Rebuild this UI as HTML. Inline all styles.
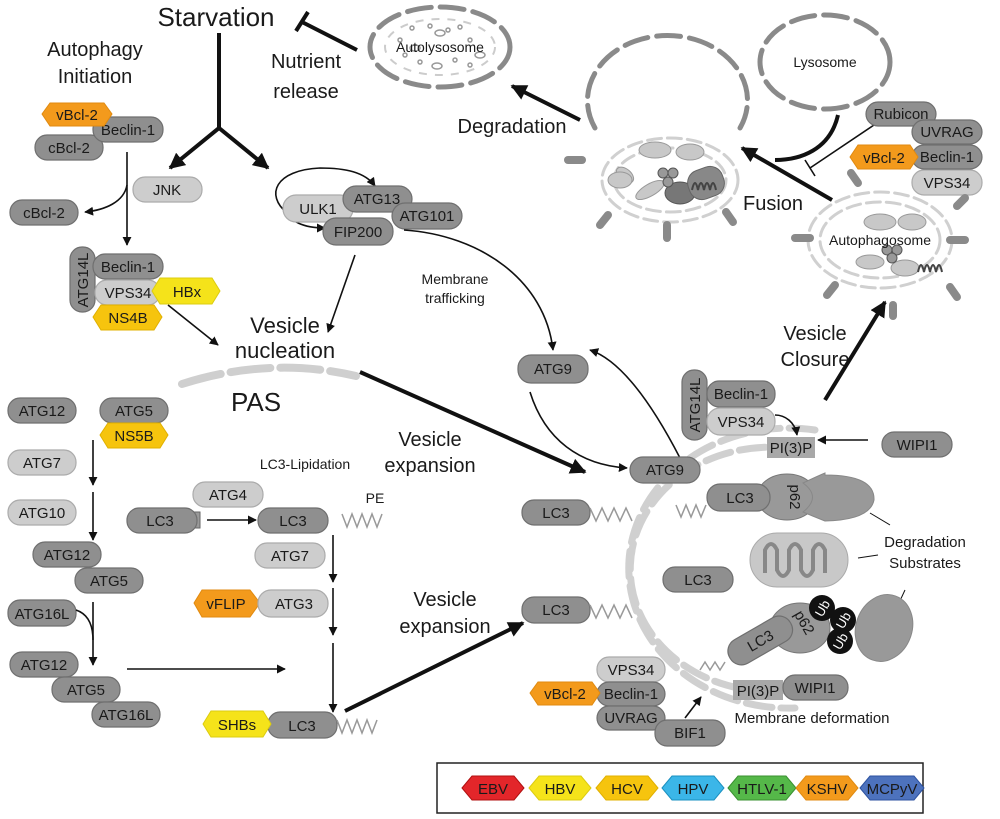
<!DOCTYPE html>
<html><head><meta charset="utf-8"><style>
body{margin:0;background:#fff}
svg{display:block}
text{font-family:"Liberation Sans",sans-serif;fill:#1a1a1a}
.d{fill:#8f8f8f;stroke:#6f6f6f;stroke-width:1.2}
.l{fill:#cdcdcd;stroke:#ababab;stroke-width:1.2}
.t{font-size:15px;text-anchor:middle}
.big{font-size:20px;text-anchor:middle}
.a{fill:none;stroke:#111;stroke-width:1.6}
.A{fill:none;stroke:#111;stroke-width:4}
.mem{fill:none;stroke:#d0d0d0;stroke-width:7;stroke-dasharray:26 9;stroke-linecap:round}
.dv{fill:none;stroke:#8a8a8a;stroke-width:5;stroke-dasharray:24 9;stroke-linecap:round}
.zz{fill:none;stroke:#999;stroke-width:1.5}
.sp{stroke:#8a8a8a;stroke-width:8;stroke-linecap:round}
</style></head><body>
<svg width="1000" height="819" viewBox="0 0 1000 819" xmlns="http://www.w3.org/2000/svg">
<defs>
<marker id="m" viewBox="0 0 10 10" refX="9" refY="5" markerWidth="9" markerHeight="9" markerUnits="userSpaceOnUse" orient="auto"><path d="M0,0 L10,5 L0,10 z" fill="#111"/></marker>
<marker id="M" viewBox="0 0 10 10" refX="9" refY="5" markerWidth="16" markerHeight="16" markerUnits="userSpaceOnUse" orient="auto"><path d="M0,0 L10,5 L0,10 z" fill="#111"/></marker>
</defs>

<text x="216" y="26" style="font-size:26px;text-anchor:middle">Starvation</text>
<text x="95" y="56" class="big">Autophagy</text>
<text x="95" y="83" class="big">Initiation</text>
<path class="A" d="M219,33 V128 L170,168" marker-end="url(#M)"/>
<path class="A" d="M219,128 L268,168" marker-end="url(#M)"/>
<text x="306" y="68" class="big">Nutrient</text>
<text x="306" y="98" class="big">release</text>
<path class="A" d="M357,50 L302,22 M296,31 L308,12" />

<ellipse cx="440" cy="47" rx="70" ry="40" class="dv"/>
<ellipse cx="440" cy="47" rx="55" ry="28" fill="none" stroke="#ccc" stroke-width="2" stroke-dasharray="8 8"/>
<g fill="none" stroke="#999" stroke-width="1.5">
<circle cx="412" cy="28" r="2"/><circle cx="430" cy="26" r="2"/><circle cx="448" cy="30" r="2"/><circle cx="460" cy="27" r="2"/><circle cx="470" cy="40" r="2"/><circle cx="405" cy="55" r="2"/><circle cx="420" cy="62" r="2"/><circle cx="455" cy="60" r="2"/><circle cx="470" cy="65" r="2"/><circle cx="400" cy="40" r="2"/>
<ellipse cx="440" cy="33" rx="5" ry="3"/><ellipse cx="437" cy="66" rx="5" ry="3"/><ellipse cx="480" cy="55" rx="5" ry="3"/><ellipse cx="415" cy="48" rx="5" ry="3"/>
</g>
<text x="440" y="52" class="t" style="font-size:14px">Autolysosome</text>
<text x="512" y="133" class="big">Degradation</text>
<path class="A" d="M580,120 L512,86" marker-end="url(#M)"/>

<path class="dv" d="M595,128 A80,65 0 1 1 740,128"/>
<ellipse cx="670" cy="180" rx="68" ry="42" class="mem" style="stroke-width:3;stroke-dasharray:14 6"/>
<ellipse cx="670" cy="180" rx="56" ry="32" class="mem" style="stroke-width:3;stroke-dasharray:14 6"/>
<g class="sp"><line x1="568" y1="160" x2="582" y2="160"/><line x1="608" y1="215" x2="600" y2="225"/><line x1="667" y1="225" x2="667" y2="238"/><line x1="726" y1="212" x2="733" y2="222"/></g>
<g fill="#c8c8c8" stroke="#999"><ellipse cx="655" cy="150" rx="16" ry="8"/><ellipse cx="690" cy="152" rx="14" ry="8"/><ellipse cx="625" cy="175" rx="10" ry="6" transform="rotate(40 625 175)"/><ellipse cx="620" cy="180" rx="12" ry="8"/><ellipse cx="650" cy="190" rx="16" ry="6" transform="rotate(-30 650 190)"/></g>
<ellipse cx="680" cy="193" rx="15" ry="11" fill="#777" stroke="#555"/>
<g fill="#999" stroke="#555"><circle cx="663" cy="173" r="5"/><circle cx="673" cy="173" r="5"/><circle cx="668" cy="182" r="5"/></g>
<rect x="688" y="168" width="36" height="30" rx="13" fill="#888" stroke="#666" transform="rotate(-20 706 183)"/>
<path d="M692,190 q3,-14 6,0 q3,-14 6,0 q3,-14 6,0 q3,-14 6,0" fill="none" stroke="#444" stroke-width="2"/>

<ellipse cx="825" cy="62" rx="65" ry="47" class="dv"/>
<text x="825" y="67" class="t" style="font-size:14px">Lysosome</text>
<path class="A" d="M838,115 C830,150 800,160 775,160"/>
<path class="A" d="M832,200 L742,148" marker-end="url(#M)"/>
<path class="a" d="M874,125 L810,168 M805,160 L815,176"/>
<text x="773" y="210" class="big">Fusion</text>
<rect class="d" x="866" y="102" width="70" height="24" rx="12"/><text class="t" x="901" y="119">Rubicon</text>
<rect class="d" x="912" y="120" width="70" height="24" rx="12"/><text class="t" x="947" y="137">UVRAG</text>
<rect class="l" x="912" y="170" width="70" height="25" rx="12"/><text class="t" x="947" y="188">VPS34</text>
<rect class="d" x="912" y="145" width="70" height="24" rx="12"/><text class="t" x="947" y="162">Beclin-1</text>
<polygon points="850,157 858,145 910,145 918,157 910,169 858,169" fill="#f39a1c" stroke="#e08a10"/><text class="t" x="884" y="163">vBcl-2</text>

<ellipse cx="880" cy="240" rx="72" ry="48" class="mem" style="stroke-width:3;stroke-dasharray:14 6"/>
<ellipse cx="880" cy="240" rx="60" ry="38" class="mem" style="stroke-width:3;stroke-dasharray:14 6"/>
<g class="sp"><line x1="795" y1="238" x2="810" y2="238"/><line x1="950" y1="240" x2="965" y2="240"/><line x1="835" y1="285" x2="827" y2="295"/><line x1="893" y1="305" x2="893" y2="316"/><line x1="950" y1="287" x2="957" y2="297"/><line x1="851" y1="173" x2="858" y2="183"/><line x1="965" y1="198" x2="957" y2="206"/></g>
<g fill="#c8c8c8" stroke="#999"><ellipse cx="880" cy="222" rx="16" ry="8"/><ellipse cx="912" cy="222" rx="14" ry="8"/><ellipse cx="870" cy="262" rx="14" ry="7"/><ellipse cx="905" cy="268" rx="14" ry="8"/></g>
<g fill="#999" stroke="#555"><circle cx="887" cy="250" r="5"/><circle cx="897" cy="250" r="5"/><circle cx="892" cy="258" r="5"/></g>
<path d="M918,272 q3,-14 6,0 q3,-14 6,0 q3,-14 6,0 q3,-14 6,0" fill="none" stroke="#444" stroke-width="2"/>
<text x="880" y="245" class="t" style="font-size:14px">Autophagosome</text>
<text x="815" y="340" class="big">Vesicle</text>
<text x="815" y="366" class="big">Closure</text>
<path class="A" d="M825,400 L885,302" marker-end="url(#M)"/>

<rect class="d" x="35" y="135" width="68" height="25" rx="12"/><text class="t" x="69" y="153">cBcl-2</text>
<rect class="d" x="93" y="117" width="70" height="25" rx="12"/><text class="t" x="128" y="135">Beclin-1</text>
<polygon points="42,114 50,103 104,103 112,114 104,126 50,126" fill="#f39a1c" stroke="#e08a10"/><text class="t" x="77" y="120">vBcl-2</text>
<path class="a" d="M127,152 V245" marker-end="url(#m)"/>
<path class="a" d="M127,185 C124,202 105,210 85,212" marker-end="url(#m)"/>
<rect class="d" x="10" y="200" width="68" height="25" rx="12"/><text class="t" x="44" y="218">cBcl-2</text>
<rect class="l" x="133" y="177" width="69" height="25" rx="12"/><text class="t" x="167" y="195">JNK</text>

<rect class="d" x="70" y="247" width="25" height="65" rx="12"/><text class="t" transform="translate(88,280) rotate(-90)">ATG14L</text>
<rect class="d" x="93" y="254" width="70" height="25" rx="12"/><text class="t" x="128" y="272">Beclin-1</text>
<rect class="l" x="95" y="280" width="65" height="25" rx="12"/><text class="t" x="128" y="298">VPS34</text>
<polygon points="152,291 160,278 212,278 220,291 212,304 160,304" fill="#f5e31a" stroke="#dccc10"/><text class="t" x="187" y="297">HBx</text>
<polygon points="93,317 101,305 154,305 162,317 154,330 101,330" fill="#f6c40e" stroke="#e0b000"/><text class="t" x="128" y="323">NS4B</text>
<path class="a" d="M168,305 L218,345" marker-end="url(#m)"/>

<path class="a" d="M287,213 C265,195 275,170 320,168 C345,168 365,172 375,186" marker-end="url(#m)"/>
<path class="a" d="M285,208 C288,222 305,228 325,228" marker-end="url(#m)"/>
<rect class="l" x="283" y="195" width="70" height="27" rx="13"/><text class="t" x="318" y="214">ULK1</text>
<rect class="d" x="343" y="186" width="69" height="26" rx="13"/><text class="t" x="377" y="204">ATG13</text>
<rect class="d" x="392" y="203" width="70" height="26" rx="13"/><text class="t" x="427" y="221">ATG101</text>
<rect class="d" x="323" y="218" width="70" height="27" rx="13"/><text class="t" x="358" y="237">FIP200</text>
<path class="a" d="M355,255 L328,332" marker-end="url(#m)"/>
<path class="a" d="M404,230 C480,235 545,280 553,350" marker-end="url(#m)"/>
<text x="455" y="284" class="t" style="font-size:14px">Membrane</text>
<text x="455" y="303" class="t" style="font-size:14px">trafficking</text>
<text x="285" y="333" style="font-size:22px;text-anchor:middle">Vesicle</text>
<text x="285" y="358" style="font-size:22px;text-anchor:middle">nucleation</text>
<path d="M182,384 Q270,356 356,376" fill="none" stroke="#cfcfcf" stroke-width="8" stroke-dasharray="40 10" stroke-linecap="round"/>
<text x="256" y="411" style="font-size:26px;text-anchor:middle">PAS</text>
<path class="A" d="M360,372 L585,472" marker-end="url(#M)"/>
<rect class="d" x="518" y="355" width="70" height="28" rx="13"/><text class="t" x="553" y="374">ATG9</text>
<text x="430" y="446" class="big">Vesicle</text>
<text x="430" y="472" class="big">expansion</text>

<rect class="d" x="8" y="398" width="68" height="25" rx="12"/><text class="t" x="42" y="416">ATG12</text>
<rect class="d" x="100" y="398" width="68" height="25" rx="12"/><text class="t" x="134" y="416">ATG5</text>
<polygon points="100,435 108,423 160,423 168,435 160,448 108,448" fill="#f6c40e" stroke="#e0b000"/><text class="t" x="134" y="441">NS5B</text>
<rect class="l" x="8" y="450" width="68" height="25" rx="12"/><text class="t" x="42" y="468">ATG7</text>
<rect class="l" x="8" y="500" width="68" height="25" rx="12"/><text class="t" x="42" y="518">ATG10</text>
<path class="a" d="M93,440 V485" marker-end="url(#m)"/>
<path class="a" d="M93,492 V540" marker-end="url(#m)"/>
<rect class="d" x="33" y="542" width="68" height="25" rx="12"/><text class="t" x="67" y="560">ATG12</text>
<rect class="d" x="75" y="568" width="68" height="25" rx="12"/><text class="t" x="109" y="586">ATG5</text>
<rect class="d" x="8" y="600" width="68" height="26" rx="12"/><text class="t" x="42" y="619">ATG16L</text>
<path class="a" d="M93,602 V665" marker-end="url(#m)"/>
<path class="a" d="M76,610 C88,614 93,625 93,640"/>
<rect class="d" x="10" y="652" width="68" height="25" rx="12"/><text class="t" x="44" y="670">ATG12</text>
<rect class="d" x="52" y="677" width="68" height="25" rx="12"/><text class="t" x="86" y="695">ATG5</text>
<rect class="d" x="92" y="702" width="68" height="25" rx="12"/><text class="t" x="126" y="720">ATG16L</text>
<path class="a" d="M127,669 H285" marker-end="url(#m)"/>

<text x="305" y="469" class="t" style="font-size:14px">LC3-Lipidation</text>
<rect class="l" x="193" y="482" width="70" height="25" rx="12"/><text class="t" x="228" y="500">ATG4</text>
<rect x="192" y="512" width="8" height="16" fill="#999" stroke="#666"/>
<rect class="d" x="127" y="508" width="70" height="25" rx="12"/><text class="t" x="160" y="526">LC3</text>
<path class="a" d="M207,520 H256" marker-end="url(#m)"/>
<rect class="d" x="258" y="508" width="70" height="25" rx="12"/><text class="t" x="293" y="526">LC3</text>
<text x="375" y="503" class="t" style="font-size:14px">PE</text>
<path class="zz" d="M342,514 l5,13 l5,-13 l5,13 l5,-13 l5,13 l5,-13 l5,13 l5,-13"/>
<rect class="l" x="255" y="543" width="70" height="25" rx="12"/><text class="t" x="290" y="561">ATG7</text>
<polygon points="194,603 202,590 250,590 260,603 250,617 202,617" fill="#f39a1c" stroke="#e08a10"/><text class="t" x="226" y="609">vFLIP</text>
<rect class="l" x="258" y="590" width="70" height="27" rx="13"/><text class="t" x="294" y="609">ATG3</text>
<path class="a" d="M333,535 V582" marker-end="url(#m)"/>
<path class="a" d="M333,588 V635" marker-end="url(#m)"/>
<path class="a" d="M333,643 V712" marker-end="url(#m)"/>
<rect class="d" x="268" y="712" width="69" height="26" rx="12"/><text class="t" x="302" y="731">LC3</text>
<polygon points="203,724 211,711 263,711 271,724 263,737 211,737" fill="#f5e31a" stroke="#dccc10"/><text class="t" x="237" y="730">SHBs</text>
<path class="zz" d="M337,720 l5,13 l5,-13 l5,13 l5,-13 l5,13 l5,-13 l5,13 l5,-13"/>
<text x="445" y="606" class="big">Vesicle</text>
<text x="445" y="633" class="big">expansion</text>
<path class="A" d="M345,711 L523,623" marker-end="url(#M)"/>

<path class="mem" d="M815,430 A160,140 0 1 0 795,708"/>
<path class="mem" d="M800,450 A140,122 0 1 0 790,690"/>
<path class="a" d="M530,392 C545,440 580,465 627,468" marker-end="url(#m)"/>
<path class="a" d="M680,458 C650,400 620,360 590,350" marker-end="url(#m)"/>
<rect class="d" x="630" y="457" width="70" height="26" rx="13"/><text class="t" x="665" y="475">ATG9</text>
<rect class="d" x="682" y="370" width="25" height="70" rx="12"/><text class="t" transform="translate(700,405) rotate(-90)">ATG14L</text>
<rect class="d" x="707" y="381" width="68" height="26" rx="12"/><text class="t" x="741" y="399">Beclin-1</text>
<rect class="l" x="707" y="408" width="68" height="27" rx="13"/><text class="t" x="741" y="427">VPS34</text>
<path class="a" d="M775,415 C785,415 795,422 797,435" marker-end="url(#m)"/>
<rect x="767" y="437" width="48" height="21" fill="#a8a8a8"/><text class="t" x="791" y="453">PI(3)P</text>
<path class="a" d="M868,440 H818" marker-end="url(#m)"/>
<rect class="d" x="882" y="432" width="70" height="25" rx="12"/><text class="t" x="917" y="450">WIPI1</text>

<rect class="d" x="522" y="500" width="68" height="25" rx="12"/><text class="t" x="556" y="518">LC3</text>
<path class="zz" d="M590,508 l6,13 l6,-13 l6,13 l6,-13 l6,13 l6,-13 l6,13"/>
<path class="zz" d="M676,505 l5,12 l5,-12 l5,12 l5,-12 l5,12 l5,-12"/>
<ellipse cx="787" cy="497" rx="30" ry="23" fill="#999" stroke="#777"/>
<path d="M803,483 Q820,475 825,473 L825,475 Q875,475 874,500 Q870,520 825,521 Q810,515 803,512 Q822,497 803,483 z" fill="#999" stroke="#888"/>
<text class="t" transform="translate(790,497) rotate(90)">p62</text>
<rect class="d" x="707" y="484" width="63" height="27" rx="13"/><text class="t" x="740" y="503">LC3</text>
<rect x="750" y="533" width="98" height="54" rx="27" fill="#c8c8c8" stroke="#aaa"/>
<path d="M765,573 V550 q6,-12 12,0 v20 q6,12 12,0 v-20 q6,-12 12,0 v20 q6,12 12,0 v-20 q6,-12 12,0 v23" fill="none" stroke="#888" stroke-width="4"/>
<rect class="d" x="663" y="567" width="70" height="25" rx="12"/><text class="t" x="698" y="585">LC3</text>
<rect class="d" x="522" y="597" width="68" height="26" rx="12"/><text class="t" x="556" y="615">LC3</text>
<path class="zz" d="M590,605 l6,13 l6,-13 l6,13 l6,-13 l6,13 l6,-13 l6,13"/>
<text x="925" y="547" class="t">Degradation</text>
<text x="925" y="568" class="t">Substrates</text>
<path class="a" style="stroke-width:1" d="M870,513 L890,525 M858,558 L878,555 M905,590 L898,605"/>
<ellipse cx="800" cy="628" rx="30" ry="25" fill="#999" stroke="#777"/>
<text class="t" transform="translate(800,625) rotate(60)">p62</text>
<ellipse cx="884" cy="628" rx="28" ry="34" fill="#999" stroke="#888" transform="rotate(20 884 628)"/>
<g fill="#111"><circle cx="822" cy="608" r="13"/><circle cx="843" cy="620" r="13"/><circle cx="840" cy="641" r="13"/></g>
<g style="font-size:13px;text-anchor:middle"><text x="822" y="613" style="fill:#fff" transform="rotate(-60 822 608)">Ub</text><text x="843" y="625" style="fill:#fff" transform="rotate(-60 843 620)">Ub</text><text x="840" y="646" style="fill:#fff" transform="rotate(-60 840 641)">Ub</text></g>
<g transform="rotate(-30 760 640)"><rect class="d" x="725" y="627" width="70" height="27" rx="13"/><text class="t" x="760" y="646">LC3</text></g>
<path class="zz" d="M700,670 l5,-8 l5,8 l5,-8 l5,8 l5,-8"/>

<rect class="l" x="597" y="657" width="68" height="25" rx="12"/><text class="t" x="631" y="675">VPS34</text>
<rect class="d" x="597" y="682" width="68" height="24" rx="12"/><text class="t" x="631" y="699">Beclin-1</text>
<polygon points="530,693 538,682 592,682 600,693 592,705 538,705" fill="#f39a1c" stroke="#e08a10"/><text class="t" x="565" y="699">vBcl-2</text>
<rect class="d" x="597" y="706" width="68" height="24" rx="12"/><text class="t" x="631" y="723">UVRAG</text>
<rect class="d" x="655" y="720" width="70" height="26" rx="12"/><text class="t" x="690" y="738">BIF1</text>
<path class="a" d="M685,718 L701,697" marker-end="url(#m)"/>
<rect x="733" y="680" width="50" height="20" fill="#a8a8a8"/><text class="t" x="758" y="696">PI(3)P</text>
<rect class="d" x="783" y="675" width="65" height="25" rx="12"/><text class="t" x="815" y="693">WIPI1</text>
<text x="812" y="723" class="t">Membrane deformation</text>

<rect x="437" y="763" width="486" height="50" fill="#fff" stroke="#222" stroke-width="1.5"/>
<g class="t">
<polygon points="462,788 472,776 514,776 524,788 514,800 472,800" fill="#e3262a" stroke="#b01010"/><text class="t" x="493" y="794">EBV</text>
<polygon points="529,788 539,776 581,776 591,788 581,800 539,800" fill="#f5e31a" stroke="#dccc10"/><text class="t" x="560" y="794">HBV</text>
<polygon points="596,788 606,776 648,776 658,788 648,800 606,800" fill="#f6c40e" stroke="#e0b000"/><text class="t" x="627" y="794">HCV</text>
<polygon points="662,788 672,776 714,776 724,788 714,800 672,800" fill="#3bb6e8" stroke="#1a90c0"/><text class="t" x="693" y="794">HPV</text>
<polygon points="728,788 738,776 786,776 796,788 786,800 738,800" fill="#55b849" stroke="#3a9030"/><text class="t" x="762" y="794">HTLV-1</text>
<polygon points="796,788 806,776 848,776 858,788 848,800 806,800" fill="#f39a1c" stroke="#e08a10"/><text class="t" x="827" y="794">KSHV</text>
<polygon points="860,788 870,776 914,776 924,788 914,800 870,800" fill="#4d72bd" stroke="#2d52a0"/><text class="t" x="892" y="794">MCPyV</text>
</g>
</svg>
</body></html>
